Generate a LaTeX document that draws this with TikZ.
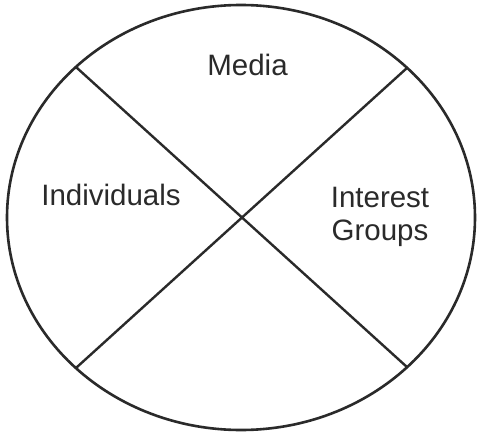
\documentclass[tikz,border=0pt]{standalone}
\usepackage{fontspec}
\setmainfont{Liberation Sans}
\usetikzlibrary{shapes.geometric}
\definecolor{ink}{HTML}{2A2A2A}
\tikzset{
  ring/.style={draw=ink, line width=2.6pt, ellipse, inner sep=0pt,
    minimum width=468pt, minimum height=425pt},
  divider/.style={draw=ink, line width=2.4pt},
  label/.style={text=ink, font=\fontsize{29.5}{34}\selectfont, anchor=base, align=center, inner sep=0pt}
}
\begin{document}
\begin{tikzpicture}[x=1pt, y=-1pt]
\useasboundingbox[fill=white] (0,0) rectangle (477,434);
\node[ring] (circle) at (241,217.5) {};
\coordinate (ul) at (76.5,67.5);
\coordinate (ur) at (407.5,67.5);
\coordinate (ll) at (76.5,367.5);
\coordinate (lr) at (407.5,367.5);
\draw[divider] (ul) -- (lr);
\draw[divider] (ll) -- (ur);
\node[label] (media) at (247.5,75) {Media};
\node[label] (indiv) at (111,205) {Individuals};
\node[label] (interest) at (380,207) {Interest};
\node[label] (groups) at (380,240) {Groups};
\end{tikzpicture}
\end{document}
